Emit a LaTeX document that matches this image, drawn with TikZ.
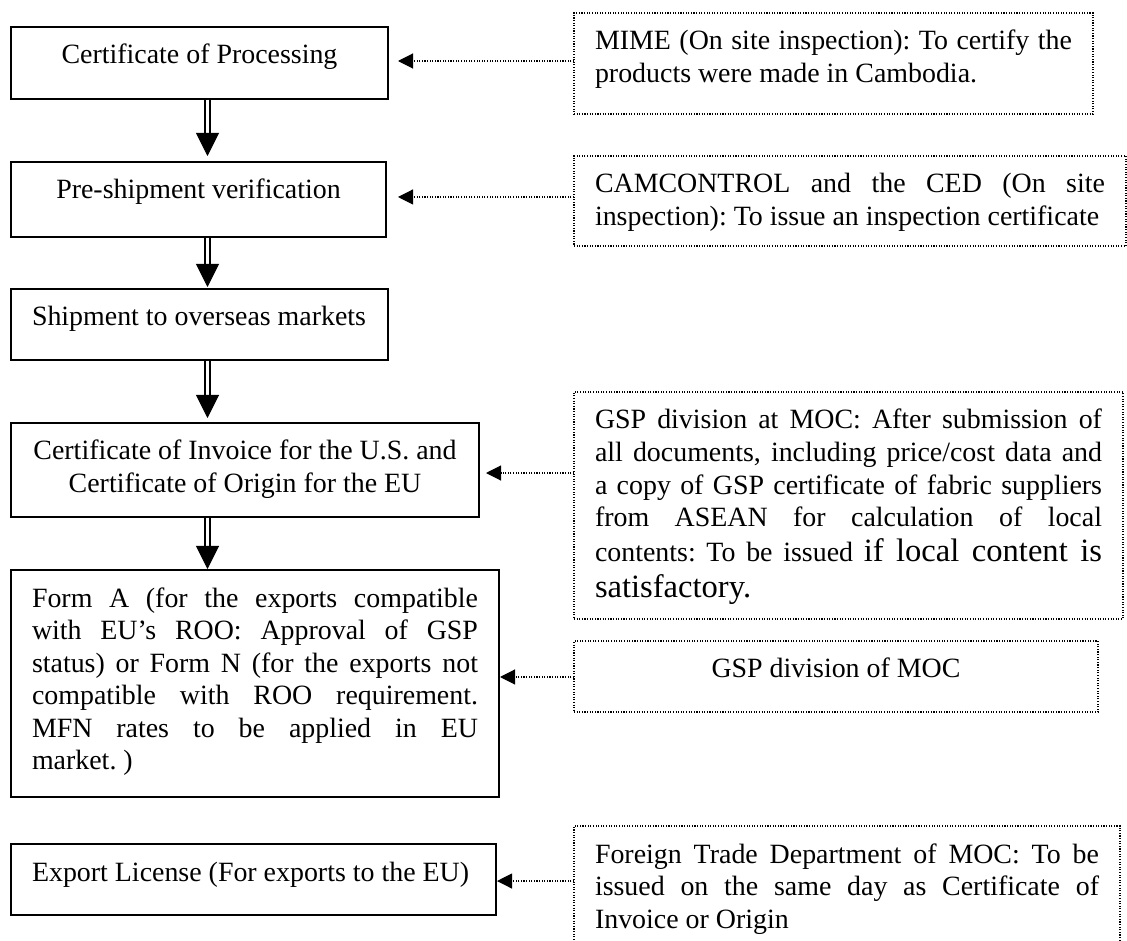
\documentclass[tikz,border=0pt]{standalone}
\usepackage{fontspec}
\setmainfont{Liberation Serif}
\usetikzlibrary{arrows.meta}

% one drawing unit (used for the text boxes)
\newdimen\pxu \pxu=0.43pt

% fixed-size box body: text starts at the top, inset on both sides
\newcommand\boxbody[3]{%
  \begin{minipage}[c][#2\pxu][t]{\dimexpr#1\pxu-42\pxu\relax}%
  \lineskiplimit=-1000pt\relax
  \vspace*{14.2\pxu}%
  #3%
  \end{minipage}}
% justified, left-aligned and centred lines
\newcommand\jline[1]{\hbox to\linewidth{\strut #1}}
\newcommand\lline[1]{\hbox to\linewidth{\strut #1\hfil}}
\newcommand\cenline[1]{\hbox to\linewidth{\hfil\strut #1\hfil}}

\begin{document}
\fontsize{12}{14}\selectfont
\frenchspacing
\begin{tikzpicture}[x=0.43pt, y=-0.43pt,
  solidbox/.style={draw=black, line width=0.645pt, anchor=north west,
    inner xsep=9.03pt, inner ysep=0pt, outer sep=0pt},
  dotbox/.style={solidbox, line width=0.56pt,
    dash pattern=on 0.47pt off 0.65pt},
  dotarrow/.style={draw=black, line width=0.47pt,
    dash pattern=on 0.47pt off 0.65pt,
    -{Triangle[length=6.45pt, width=6.45pt]}},
  dblshaft/.style={draw=black, double=white, double distance=1.29pt,
    line width=0.86pt, shorten <=0.32pt},
  dblhead/.style={draw=white, line width=0.43pt, shorten <=0.32pt,
    -{Triangle[length=9.9pt, width=9.9pt, color=black, fill=black]}}]

\useasboundingbox (0,0) rectangle (1127,941);
\clip (0,0) rectangle (1127,941);

% ---- process steps (left column)
\node[solidbox] (b1) at (11,27)
  {\boxbody{377}{72}{\cenline{Certificate of Processing}}};
\node[solidbox] (b2) at (11,162)
  {\boxbody{375}{75}{\cenline{Pre-shipment verification}}};
\node[solidbox] (b3) at (11,289)
  {\boxbody{377}{71}{\lline{Shipment to overseas markets}}};
\node[solidbox] (b4) at (11,423)
  {\boxbody{468}{94}{%
    \cenline{Certificate of Invoice for the U.S. and}%
    \cenline{Certificate of Origin for the EU}}};
\node[solidbox] (b5) at (11,570)
  {\boxbody{488}{227}{%
    \jline{Form A (for the exports compatible}%
    \jline{with EU’s ROO: Approval of GSP}%
    \jline{status) or Form N (for the exports not}%
    \jline{compatible with ROO requirement.}%
    \jline{MFN rates to be applied in EU}%
    \lline{market. )}}};
\node[solidbox] (b6) at (11,844)
  {\boxbody{485}{71}{\lline{Export License (For exports to the EU)}}};

% ---- issuing bodies (right column)
\node[dotbox] (r1) at (574,13)
  {\boxbody{519}{101}{%
    \jline{MIME (On site inspection): To certify the}%
    \lline{products were made in Cambodia.}}};
\node[dotbox] (r2) at (574,156)
  {\boxbody{552}{90}{%
    \jline{CAMCONTROL and the CED (On site}%
    \lline{inspection): To issue an inspection certificate}}};
\node[dotbox] (r3) at (574,392)
  {\boxbody{549}{227}{%
    \jline{GSP division at MOC: After submission of}%
    \jline{all documents, including price/cost data and}%
    \jline{a copy of GSP certificate of fabric suppliers}%
    \jline{from ASEAN for calculation of local}%
    \baselineskip=35\pxu
    \jline{contents: To be issued {\fontsize{14}{16}\selectfont if local content is}}%
    \baselineskip=36\pxu
    \lline{\fontsize{14}{16}\selectfont satisfactory.}}};
\node[dotbox] (r4) at (574,641)
  {\boxbody{524}{71}{\cenline{GSP division of MOC}}};
\node[dotbox] (r5) at (574,826)
  {\boxbody{546}{160}{%
    \jline{Foreign Trade Department of MOC: To be}%
    \jline{issued on the same day as Certificate of}%
    \lline{Invoice or Origin}}};

% ---- flow between the steps (double shaft, then the solid head)
\coordinate (axis) at (207.5,0);
\foreach \src/\dst/\gap/\shaft in
    {b1/b2/2.58/12.47, b2/b3/0.86/10.75, b3/b4/2.15/12.04, b4/b5/0.43/10.32}{
  \draw[dblshaft, shorten >=\shaft pt]
    (\src.south -| axis) -- (\dst.north -| axis);
  \draw[dblhead, shorten >=\gap pt]
    (\src.south -| axis) -- (\dst.north -| axis);
}

% ---- bodies pointing at the steps they handle
\coordinate (t1) at ([yshift=0.86pt]b1.east);
\coordinate (t2) at ([yshift=1.08pt]b2.east);
\coordinate (t3) at ([yshift=-1.29pt]b4.east);
\coordinate (t4) at ([yshift=2.8pt]b5.east);
\coordinate (t5) at ([yshift=-0.65pt]b6.east);
\draw[dotarrow, shorten >=4.3pt]  (r1.west |- t1) -- (t1);
\draw[dotarrow, shorten >=5.16pt] (r2.west |- t2) -- (t2);
\draw[dotarrow, shorten >=3.01pt] (r3.west |- t3) -- (t3);
\draw[dotarrow, shorten >=0.43pt] (r4.west |- t4) -- (t4);
\draw[dotarrow, shorten >=0.43pt] (r5.west |- t5) -- (t5);
\end{tikzpicture}
\end{document}
